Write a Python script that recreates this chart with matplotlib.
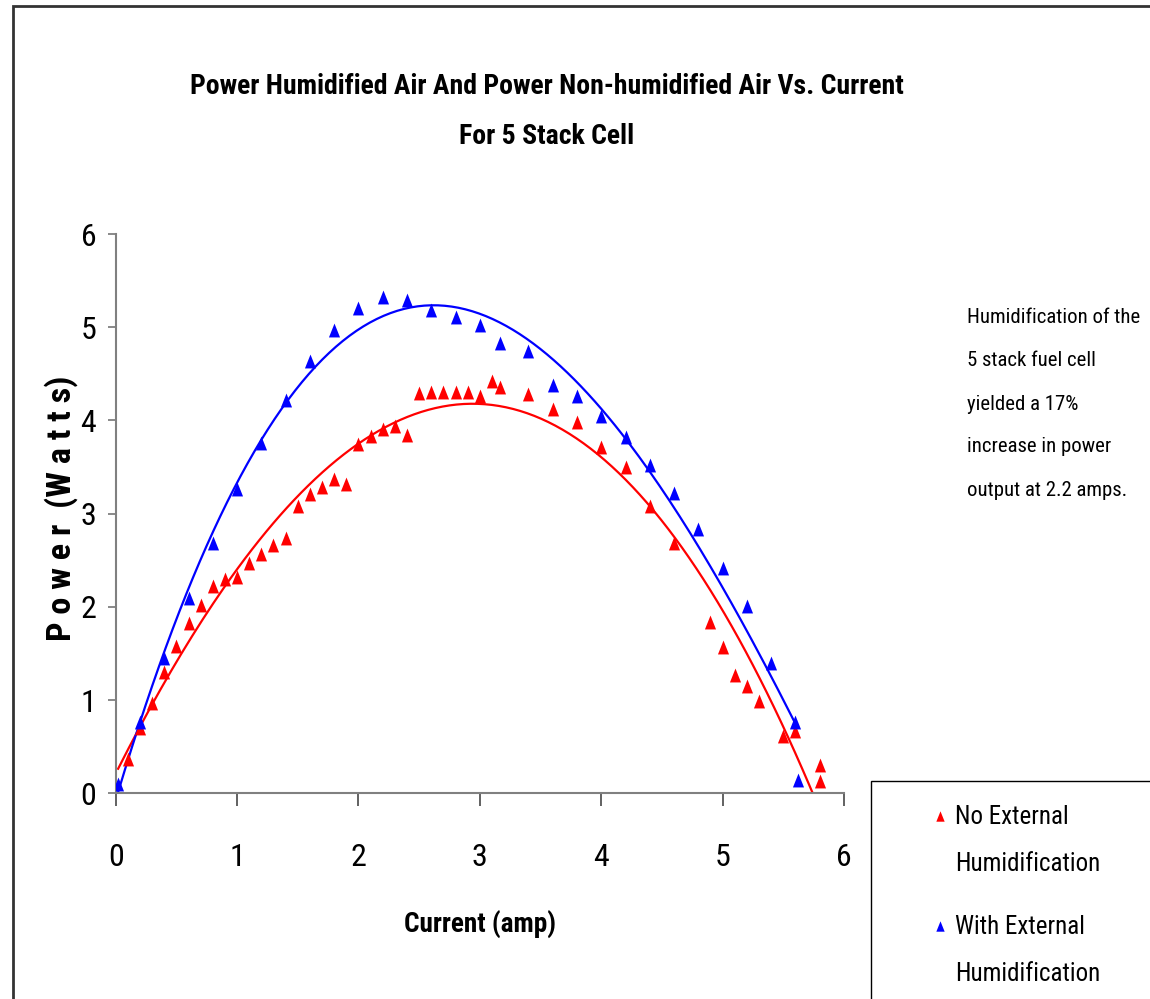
import numpy as np
import matplotlib
matplotlib.use("Agg")
import matplotlib.pyplot as plt
from matplotlib import font_manager
from matplotlib.font_manager import FontProperties
from matplotlib.patches import Rectangle

# ===== DATA =====
current_dry = [0.1, 0.2, 0.3, 0.4, 0.5, 0.6, 0.7, 0.8, 0.9, 1.0,
               1.1, 1.2, 1.3, 1.4, 1.5, 1.6, 1.7, 1.8, 1.9, 2.0,
               2.1, 2.2, 2.3, 2.4, 2.5, 2.6, 2.7, 2.8, 2.9, 3.0,
               3.1, 3.17, 3.4, 3.6, 3.8, 4.0, 4.2, 4.4, 4.6, 4.9,
               5.0, 5.1, 5.2, 5.3, 5.5, 5.6, 5.8, 5.8]
power_dry = [0.37, 0.70, 0.97, 1.30, 1.58, 1.83, 2.02, 2.22, 2.30, 2.32,
             2.47, 2.57, 2.66, 2.74, 3.08, 3.21, 3.29, 3.37, 3.32, 3.75,
             3.83, 3.91, 3.94, 3.84, 4.29, 4.30, 4.30, 4.30, 4.30, 4.26,
             4.42, 4.36, 4.28, 4.12, 3.98, 3.72, 3.50, 3.08, 2.69, 1.84,
             1.57, 1.27, 1.15, 0.99, 0.61, 0.67, 0.30, 0.13]

current_wet = [0.02, 0.2, 0.4, 0.6, 0.8, 1.0, 1.2, 1.4, 1.6, 1.8,
               2.0, 2.2, 2.4, 2.6, 2.8, 3.0, 3.17, 3.4, 3.6, 3.8,
               4.0, 4.2, 4.4, 4.6, 4.8, 5.0, 5.2, 5.4, 5.6, 5.62]
power_wet = [0.10, 0.76, 1.45, 2.10, 2.68, 3.26, 3.76, 4.22, 4.64, 4.97,
             5.21, 5.32, 5.29, 5.19, 5.11, 5.02, 4.83, 4.75, 4.38, 4.26,
             4.05, 3.82, 3.52, 3.22, 2.84, 2.42, 2.01, 1.40, 0.77, 0.14]

x_ticks = [0, 1, 2, 3, 4, 5, 6]
y_ticks = [0, 1, 2, 3, 4, 5, 6]

TITLE_LINES = ["Power Humidified Air And Power Non-humidified Air Vs. Current",
               "For 5 Stack Cell"]
NOTE_LINES = ["Humidification of the", "5 stack fuel cell", "yielded a 17%",
              "increase in power", "output at 2.2 amps."]
LABELS = ["No External\nHumidification", "With External\nHumidification"]


# ===== FONTS =====
def pick_font():
    """Narrow font like the original Arial Narrow, if there is one."""
    fl = font_manager.fontManager.ttflist
    names = {f.name for f in fl}
    for n in ["Liberation Sans Narrow", "Arial Narrow", "Roboto Condensed",
              "Open Sans Condensed", "Noto Sans Condensed"]:
        if n in names:
            return n, "normal"
    for f in fl:
        if str(f.stretch) in ("condensed", "semi-condensed", "extra-condensed"):
            return f.name, f.stretch
    return "Roboto", "normal"


FONT, STRETCH = pick_font()
plt.rcParams["font.family"] = [FONT, "DejaVu Sans"]
plt.rcParams["font.stretch"] = STRETCH

W, H = 1150, 999
fig = plt.figure(figsize=(W / 100, H / 100), dpi=100)
renderer = fig.canvas.get_renderer()


def size_for_width(text, target_px, weight="normal", size0=20):
    t = fig.text(0, 0, text, fontsize=size0, fontweight=weight)
    w = t.get_window_extent(renderer).width
    t.remove()
    return size0 * target_px / w


def fy(py):
    return 1 - py / H


# outer chart border (left and top only visible)
fig.add_artist(Rectangle((13 / W, -0.1), 1.2, 1.1 - 6 / H, transform=fig.transFigure,
                         fill=False, ec="#333333", lw=2))

ax = fig.add_axes([115.7 / W, fy(793.3), (844 - 115.7) / W, (793.3 - 234) / H])

tri = [(-0.8, -1), (0.8, -1), (0, 1)]

# trend lines (3rd order polynomial fits, like the spreadsheet trendline)
fit_dry = np.polyfit(current_dry, power_dry, 3)
fit_wet = np.polyfit(current_wet, power_wet, 3)
xs_dry = np.linspace(0.02, 5.8, 200)
xs_wet = np.linspace(0.02, 5.6, 200)
ax.plot(xs_dry, np.polyval(fit_dry, xs_dry), color="red", lw=1.6, zorder=2)
ax.plot(xs_wet, np.polyval(fit_wet, xs_wet), color="blue", lw=1.6, zorder=2)

ax.plot(current_dry, power_dry, ls="none", marker=tri, ms=10, color="red",
        mec="none", label=LABELS[0], zorder=3)
ax.plot(current_wet, power_wet, ls="none", marker=tri, ms=10, color="blue",
        mec="none", label=LABELS[1], zorder=3)

ax.set_xlim(0, 6)
ax.set_ylim(0, 6)
ax.set_xticks(x_ticks)
ax.set_yticks(y_ticks)
for s in ["top", "right"]:
    ax.spines[s].set_visible(False)
for s in ["left", "bottom"]:
    ax.spines[s].set_color("#808080")
    ax.spines[s].set_linewidth(1.5)
tick_size = 23
ax.tick_params(axis="x", direction="out", length=9, width=1.3, color="#555555",
               labelsize=tick_size, pad=27)
ax.tick_params(axis="y", direction="out", length=6, width=1.3, color="#808080",
               labelsize=tick_size, pad=8)
ax.patch.set_alpha(0)

ax.set_xlabel("Current (amp)", fontweight="bold", va="center",
              fontsize=size_for_width("Current (amp)", 152, "bold"))
ax.xaxis.set_label_coords(480 / W, fy(925), transform=fig.transFigure)
ylab = "P o w e r  (W a t t s)"
ax.set_ylabel(ylab, fontweight="bold", va="center",
              fontsize=size_for_width(ylab, 265, "bold"))
ax.yaxis.set_label_coords(61 / W, fy(508), transform=fig.transFigure)

# title, one line at a time to keep the wide line gap
title_size = size_for_width(TITLE_LINES[0], 713, "bold")
for line, py in zip(TITLE_LINES, [86, 137]):
    fig.text(547 / W, fy(py), line, ha="center", va="center",
             fontsize=title_size, fontweight="bold")

note_size = size_for_width(NOTE_LINES[0], 173)
for line, py in zip(NOTE_LINES, [317, 361, 404, 447, 491]):
    fig.text(967 / W, fy(py), line, ha="left", va="center", fontsize=note_size)

# legend box runs off the figure edge like in the original
fig.add_artist(Rectangle((871 / W, -0.1), 1.0, 0.1 + (999 - 781) / H,
                         transform=fig.transFigure, fill=False, ec="black", lw=1))
leg_size = size_for_width("Humidification", 145)
fs_px = leg_size * 100 / 72
fp = FontProperties(family=[FONT, "DejaVu Sans"], stretch=STRETCH, size=leg_size)
asc = 0
for s in ["lp", "Humidification", "No External"]:
    _, h, d = renderer.get_text_width_height_descent(s, fp, ismath=False)
    asc = max(asc, h - d)
handle_len = 0.6
leg = ax.legend(loc="upper left", bbox_to_anchor=((940 - handle_len * fs_px / 2) / W, fy(805)),
                bbox_transform=fig.transFigure, frameon=False, fontsize=leg_size,
                handlelength=handle_len,
                handletextpad=(955 - 940 - handle_len * fs_px / 2) / fs_px,
                labelspacing=0.35 + 30 / fs_px, markerscale=0.75, borderpad=0,
                borderaxespad=0)
for t in leg.get_texts():
    t.set_linespacing(47 / asc * 0.94)
# marker next to the first text line, not centred on both
for hnd in leg.legend_handles:
    hnd.set_ydata(np.asarray(hnd.get_ydata()) + 18)

fig.savefig("out.png", dpi=100, facecolor="white")
